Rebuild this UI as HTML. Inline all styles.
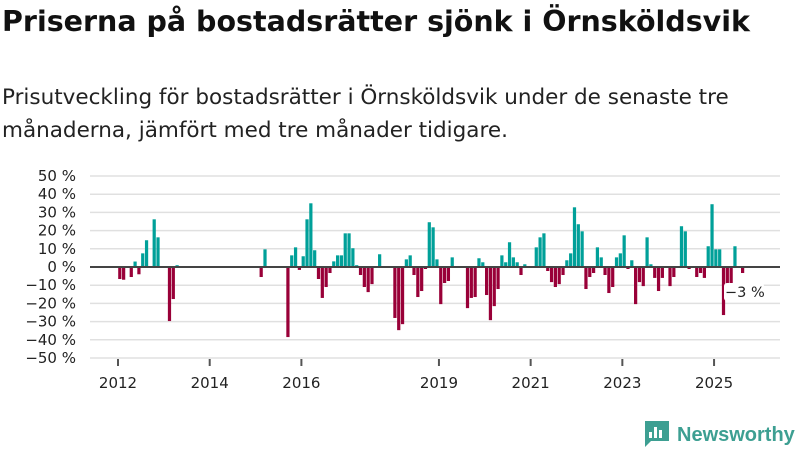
<!DOCTYPE html>
<html><head><meta charset="utf-8">
<style>
body{margin:0;background:#fff;width:800px;height:450px;overflow:hidden;font-family:"DejaVu Sans","Liberation Sans",sans-serif;}
#title{position:absolute;left:2px;top:5px;font-size:28.5px;font-weight:bold;color:#111;margin:0;letter-spacing:0}
#sub{position:absolute;left:2px;top:81px;font-size:21.5px;line-height:33px;color:#222;width:790px}
svg{position:absolute;left:0;top:0}
</style></head><body>
<h1 id="title">Priserna på bostadsrätter sjönk i Örnsköldsvik</h1>
<div id="sub">Prisutveckling för bostadsrätter i Örnsköldsvik under de senaste tre<br>månaderna, jämfört med tre månader tidigare.</div>
<svg id="chart" width="800" height="450"></svg>
<script>
const startYear = 2012;
const values = [-6.6,-7,0,-5.5,3,-4,7.5,14.7,0,26.2,16.3,0,0,-29.7,-17.6,1,
0,0,0,0,0,0,0,0,0,0,0,0,0,0,0,0,0,0,0,0,0,-5.5,9.7,0,0,0,0,0,-38.5,6.4,10.8,-1.6,5.9,26.2,35,9.2,
-6.6,-17,-11,-3.3,3.1,6.4,6.4,18.5,18.5,10.3,1,-4.4,-11,-13.8,-9.4,0,7,0,0,0,-28,-34.7,-31.4,4.2,6.4,-4.4,-16.5,-13.2,-1.1,24.6,21.8,4.2,-20.4,-8.8,-7.7,5.3,0,0,0,-22.6,-17,-16.5,4.8,2.6,-15.4,-29.2,-21.5,-12.1,6.4,2.6,13.6,5.3,2.6,-4.4,1.5,0,0,10.8,16.3,18.5,-2.2,-8.3,-11,-9.4,-4.4,3.7,7.5,32.8,23.5,19.6,-12.1,-5.5,-3.3,10.8,5.3,-4.4,-14.3,-11,5.3,7.5,17.4,-1.1,3.7,-20.4,-8.3,-10.5,16.3,1.5,-6,-13.2,-6,0,-10.5,-5.5,0,22.4,19.6,-1.1,0,-5.5,-3.3,-6,11.4,34.5,9.7,9.7,-26.4,-12,-11,11.4,0,-3.3];
const yTicks = [50,40,30,20,10,0,-10,-20,-30,-40,-50];
const xTickYears = [2012,2014,2016,2019,2021,2023,2025];
const lastLabel = "−3 %";

const NS="http://www.w3.org/2000/svg";
const svg=document.getElementById('chart');
const X0=118, PX_YEAR=45.85, MW=PX_YEAR/12;
const xOf=i=>X0+i*MW;
const yOf=v=>267-v*1.82;
function el(t,a){const e=document.createElementNS(NS,t);for(const k in a)e.setAttribute(k,a[k]);svg.appendChild(e);return e;}
yTicks.forEach(v=>{
  const g=el('line',{x1:90,x2:780,y1:yOf(v),y2:yOf(v),stroke:'#e0e0e0','stroke-width':1.5});
  
  
  const t=el('text',{x:76,y:yOf(v)+5,'text-anchor':'end','font-size':15,fill:'#222'});
  t.textContent=(v<0?'−'+(-v):v)+' %';
  
  
});
values.forEach((v,i)=>{
  if(v===0)return;
  const y=yOf(Math.max(v,0)), h=Math.abs(yOf(v)-yOf(0));
  const r=el('rect',{x:xOf(i)+0.2,y:y,width:MW-0.6,height:h,fill:v>0?'#00a099':'#990038'});
  
  
});
const zl=el('line',{x1:90,x2:780,y1:yOf(0),y2:yOf(0),stroke:'#444','stroke-width':2});


xTickYears.forEach(yr=>{
  const x=X0+(yr-startYear)*PX_YEAR;
  const tk=el('line',{x1:x,x2:x,y1:359,y2:366,stroke:'#555','stroke-width':2});
  
  
  const t=el('text',{x:x,y:388,'text-anchor':'middle','font-size':15,fill:'#222'});
  t.textContent=yr;
  
  
});
const lb=el('rect',{x:724,y:283,width:40,height:18,fill:'#fff',rx:3});


const lt=el('text',{x:725,y:297,'font-size':14.5,fill:'#222'});
lt.textContent=lastLabel;


const lg=el('g',{});


const ic=document.createElementNS(NS,'path');
ic.setAttribute('d','M645 421 h24 v20 h-18 l-6 6 z');ic.setAttribute('fill','#3d9f92');lg.appendChild(ic);
[[649,432,3,6],[654,427,3,11],[659,430,3,8]].forEach(b=>{const r=document.createElementNS(NS,'rect');r.setAttribute('x',b[0]);r.setAttribute('y',b[1]);r.setAttribute('width',b[2]);r.setAttribute('height',b[3]);r.setAttribute('fill','#fff');lg.appendChild(r);});
const lt2=document.createElementNS(NS,'text');
lt2.setAttribute('x',677);lt2.setAttribute('y',441);lt2.setAttribute('font-size',20);lt2.setAttribute('fill','#3d9f92');lt2.setAttribute('font-weight','bold');lt2.setAttribute('font-family','Liberation Sans, sans-serif');
lt2.textContent='Newsworthy';lg.appendChild(lt2);
</script>
</body></html>
